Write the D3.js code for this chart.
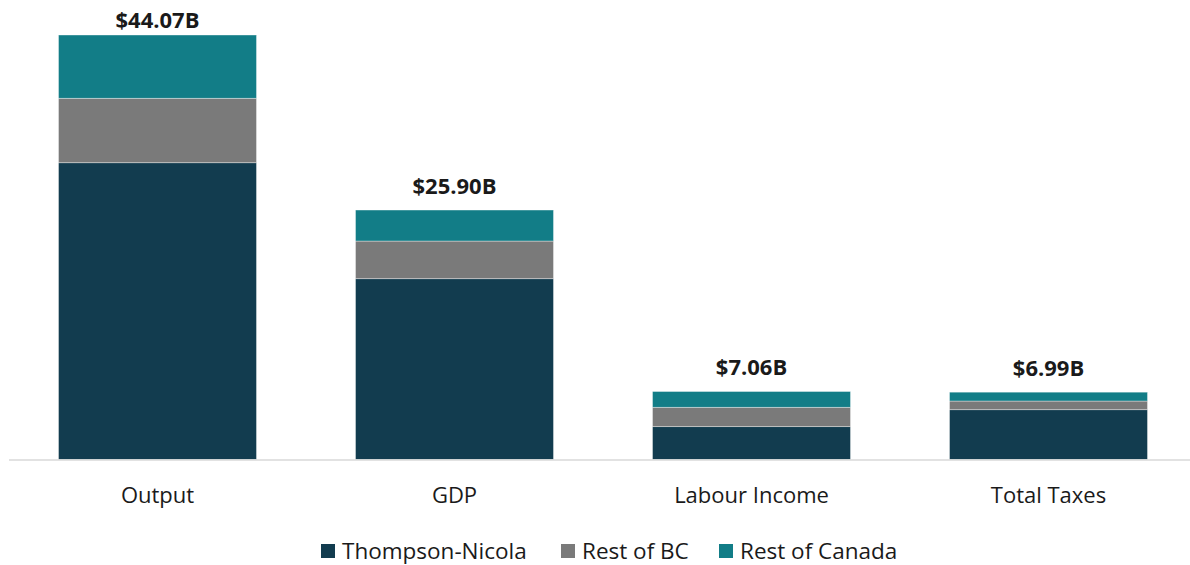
<!DOCTYPE html>
<html>
<head>
<meta charset="utf-8">
<script src="https://cdn.jsdelivr.net/npm/d3@7"></script>
<style>
  html, body { margin: 0; padding: 0; background: #ffffff; }
  svg { display: block; font-family: "Open Sans", "Noto Sans", sans-serif; }
</style>
</head>
<body>
<svg id="chart" width="1190" height="565"></svg>
<script>
// Economic impact by region, billions of dollars
const categories = ["Output", "GDP", "Labour Income", "Total Taxes"];
const seriesNames = ["Thompson-Nicola", "Rest of BC", "Rest of Canada"];
const thompsonNicola = [30.81, 18.77, 3.41, 5.17];
const restOfBC = [6.69, 3.91, 2.01, 0.90];
const restOfCanada = [6.57, 3.22, 1.64, 0.92];
const totalLabels = ["$44.07B", "$25.90B", "$7.06B", "$6.99B"];
const colors = ["#123c4f", "#7a7a7a", "#127d87"];

const rows = categories.map((c, i) => ({
  category: c,
  "Thompson-Nicola": thompsonNicola[i],
  "Rest of BC": restOfBC[i],
  "Rest of Canada": restOfCanada[i],
  total: thompsonNicola[i] + restOfBC[i] + restOfCanada[i],
  label: totalLabels[i]
}));

const svg = d3.select("#chart");
const plot = { left: 9, right: 1197, top: 35, bottom: 459.5 };

const x = d3.scaleBand()
  .domain(categories)
  .range([plot.left, plot.right])
  .paddingInner(1 / 3)
  .paddingOuter(1 / 6);

const y = d3.scaleLinear()
  .domain([0, 44.07])
  .range([plot.bottom, plot.top]);

const color = d3.scaleOrdinal().domain(seriesNames).range(colors);

const stack = d3.stack().keys(seriesNames)(rows);

// Stacked bars
svg.append("g")
  .selectAll("g")
  .data(stack)
  .join("g")
  .attr("fill", d => color(d.key))
  .selectAll("rect")
  .data(d => d)
  .join("rect")
  .attr("x", d => x(d.data.category))
  .attr("y", d => y(d[1]))
  .attr("width", x.bandwidth())
  .attr("height", d => y(d[0]) - y(d[1]))
  .attr("stroke", "#ffffff")
  .attr("stroke-opacity", 0.5)
  .attr("stroke-width", 0.75);

// Baseline axis
const axis = svg.append("g")
  .attr("transform", `translate(0,${plot.bottom + 0.5})`)
  .call(d3.axisBottom(x).tickSize(0).tickPadding(27));
axis.select(".domain")
  .attr("d", `M${plot.left},0H1190`)
  .attr("stroke", "#d9d9d9")
  .attr("stroke-width", 1.5);
axis.selectAll(".tick text")
  .attr("font-family", "\"Open Sans\", sans-serif")
  .attr("font-size", 22)
  .attr("fill", "#1a1a1a");

// Totals above each bar, kept inside the top edge of the chart
svg.append("g")
  .selectAll("text")
  .data(rows)
  .join("text")
  .attr("x", d => x(d.category) + x.bandwidth() / 2)
  .attr("y", d => Math.max(y(d.total) - 16.5, 28))
  .attr("text-anchor", "middle")
  .attr("font-size", 22)
  .attr("font-weight", "bold")
  .attr("fill", "#1a1a1a")
  .text(d => d.label);

// Legend
const legendItems = [
  { name: "Thompson-Nicola", x: 321 },
  { name: "Rest of BC", x: 561 },
  { name: "Rest of Canada", x: 719 }
];
const legend = svg.append("g")
  .selectAll("g")
  .data(legendItems)
  .join("g")
  .attr("transform", d => `translate(${d.x},544)`);
legend.append("rect")
  .attr("width", 14)
  .attr("height", 14)
  .attr("fill", d => color(d.name));
legend.append("text")
  .attr("x", 21)
  .attr("y", 15)
  .attr("font-size", 22.5)
  .attr("fill", "#1a1a1a")
  .text(d => d.name);
</script>
</body>
</html>
